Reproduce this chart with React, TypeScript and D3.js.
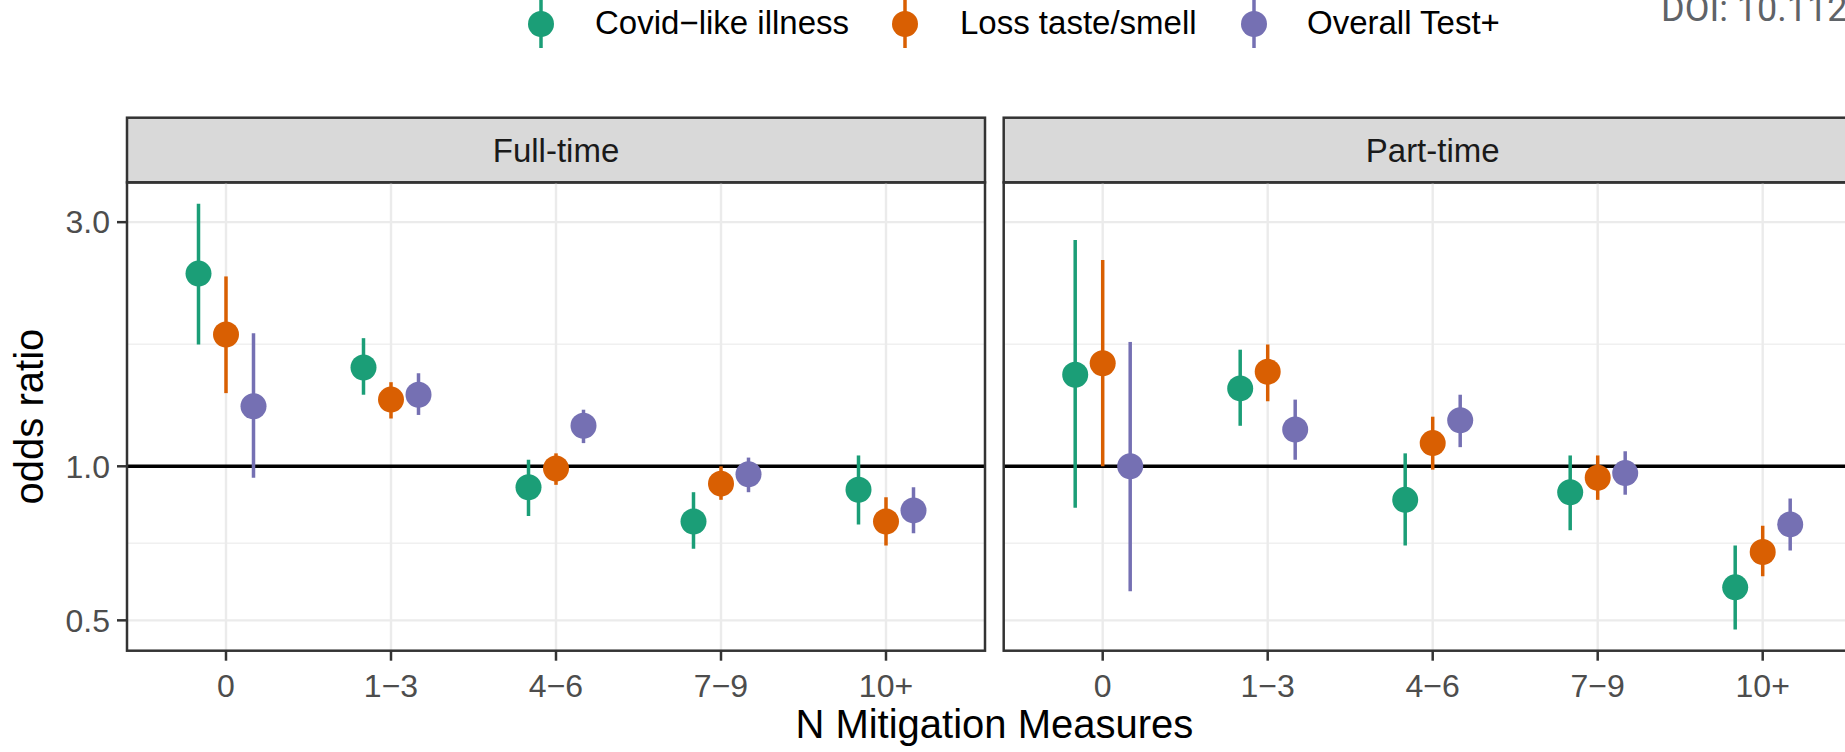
import React from "react";
import * as d3 from "d3";

// ---------- data ----------
const categories = ["0", "1\u22123", "4\u22126", "7\u22129", "10+"];
const panels = ["Full-time", "Part-time"];
const seriesNames = ["Covid\u2212like illness", "Loss taste/smell", "Overall Test+"];
const seriesColors = ["#1B9E77", "#D95F02", "#7570B3"];
const yTicks = [0.5, 1.0, 3.0];
const yMinor = [Math.sqrt(0.5), Math.sqrt(3)];

// Full-time
const ftCovidEst = [2.38, 1.56, 0.91, 0.78, 0.9];
const ftCovidLo = [1.73, 1.38, 0.8, 0.69, 0.77];
const ftCovidHi = [3.26, 1.78, 1.03, 0.89, 1.05];
const ftTasteEst = [1.81, 1.35, 0.99, 0.925, 0.78];
const ftTasteLo = [1.39, 1.24, 0.92, 0.86, 0.7];
const ftTasteHi = [2.35, 1.46, 1.06, 1.0, 0.87];
const ftTestEst = [1.31, 1.38, 1.2, 0.965, 0.82];
const ftTestLo = [0.95, 1.26, 1.11, 0.89, 0.74];
const ftTestHi = [1.82, 1.52, 1.29, 1.04, 0.91];

// Part-time
const ptCovidEst = [1.51, 1.42, 0.86, 0.89, 0.58];
const ptCovidLo = [0.83, 1.2, 0.7, 0.75, 0.48];
const ptCovidHi = [2.77, 1.69, 1.06, 1.05, 0.7];
const ptTasteEst = [1.59, 1.53, 1.11, 0.95, 0.68];
const ptTasteLo = [1.0, 1.34, 0.985, 0.86, 0.61];
const ptTasteHi = [2.53, 1.73, 1.25, 1.05, 0.765];
const ptTestEst = [1.0, 1.18, 1.23, 0.97, 0.77];
const ptTestLo = [0.57, 1.03, 1.09, 0.88, 0.685];
const ptTestHi = [1.75, 1.35, 1.38, 1.07, 0.865];

const panelData = [
  [
    { est: ftCovidEst, lo: ftCovidLo, hi: ftCovidHi },
    { est: ftTasteEst, lo: ftTasteLo, hi: ftTasteHi },
    { est: ftTestEst, lo: ftTestLo, hi: ftTestHi },
  ],
  [
    { est: ptCovidEst, lo: ptCovidLo, hi: ptCovidHi },
    { est: ptTasteEst, lo: ptTasteLo, hi: ptTasteHi },
    { est: ptTestEst, lo: ptTestLo, hi: ptTestHi },
  ],
];

// ---------- layout ----------
const W = 1845;
const H = 752;
const FONT = "'Liberation Sans', Arial, Helvetica, sans-serif";
const stripTop = 117.7;
const panelTop = 182.4;
const panelBottom = 650.7;
const panelWidth = 858;
const panelLefts = [127, 1003.7];

export default function App() {
  const allVals = panelData.flat().flatMap((s) => [...s.lo, ...s.hi]);
  const lmin = Math.log(d3.min(allVals) as number);
  const lmax = Math.log(d3.max(allVals) as number);
  const pad = (lmax - lmin) * 0.05;
  const y = d3
    .scaleLog()
    .domain([Math.exp(lmin - pad), Math.exp(lmax + pad)])
    .range([panelBottom, panelTop]);

  const legendKeyX = [541, 905, 1254];
  const legendTextX = [595, 960, 1307];

  return (
    <svg
      width={W}
      height={H}
      style={{ position: "absolute", left: 0, top: 0, background: "#fff" }}
      fontFamily={FONT}
    >
      <rect x={0} y={0} width={W} height={H} fill="#fff" />
      {/* DOI watermark */}
      <text x={1661} y={21} fontSize={36} fill="#5f6368" fontFamily="Roboto, 'Noto Sans', sans-serif">
        DOI: 10.1128
      </text>

      {/* legend */}
      {seriesNames.map((name, i) => (
        <g key={name}>
          <line x1={legendKeyX[i]} x2={legendKeyX[i]} y1={0} y2={48} stroke={seriesColors[i]} strokeWidth={3.5} />
          <circle cx={legendKeyX[i]} cy={24} r={13} fill={seriesColors[i]} />
          <text x={legendTextX[i]} y={34} fontSize={33} fill="#000">
            {name}
          </text>
        </g>
      ))}

      {panels.map((p, pi) => {
        const x0 = panelLefts[pi];
        const x = d3
          .scalePoint<string>()
          .domain(categories)
          .range([x0, x0 + panelWidth])
          .padding(0.6);
        const step = x.step();
        const dodge = (step * 0.5) / 3;
        const clipId = `clip${pi}`;
        return (
          <g key={p}>
            <defs>
              <clipPath id={clipId}>
                <rect x={x0} y={panelTop} width={panelWidth} height={panelBottom - panelTop} />
              </clipPath>
            </defs>
            {/* strip */}
            <rect
              x={x0}
              y={stripTop}
              width={panelWidth}
              height={panelTop - stripTop}
              fill="#D9D9D9"
              stroke="#333333"
              strokeWidth={2.5}
            />
            <text
              x={x0 + panelWidth / 2}
              y={(stripTop + panelTop) / 2 + 11.5}
              textAnchor="middle"
              fontSize={33}
              fill="#1A1A1A"
            >
              {p}
            </text>
            <g clipPath={`url(#${clipId})`}>
              {/* minor grid */}
              {yMinor.map((v) => (
                <line key={v} x1={x0} x2={x0 + panelWidth} y1={y(v)} y2={y(v)} stroke="#F0F0F0" strokeWidth={1.4} />
              ))}
              {yTicks.map((v) => (
                <line key={v} x1={x0} x2={x0 + panelWidth} y1={y(v)} y2={y(v)} stroke="#EBEBEB" strokeWidth={2.4} />
              ))}
              {categories.map((c) => (
                <line
                  key={c}
                  x1={x(c)}
                  x2={x(c)}
                  y1={panelTop}
                  y2={panelBottom}
                  stroke="#EBEBEB"
                  strokeWidth={2.4}
                />
              ))}
              {/* reference line */}
              <line x1={x0} x2={x0 + panelWidth} y1={y(1)} y2={y(1)} stroke="#000" strokeWidth={3.5} />
              {/* point ranges */}
              {categories.map((c, ci) =>
                panelData[pi].map((s, si) => {
                  const cx = (x(c) as number) + (si - 1) * dodge;
                  return (
                    <g key={c + si}>
                      <line
                        x1={cx}
                        x2={cx}
                        y1={y(s.lo[ci])}
                        y2={y(s.hi[ci])}
                        stroke={seriesColors[si]}
                        strokeWidth={3.5}
                      />
                      <circle cx={cx} cy={y(s.est[ci])} r={13} fill={seriesColors[si]} />
                    </g>
                  );
                })
              )}
            </g>
            {/* border */}
            <rect
              x={x0}
              y={panelTop}
              width={panelWidth}
              height={panelBottom - panelTop}
              fill="none"
              stroke="#333333"
              strokeWidth={2.5}
            />
            {/* x ticks */}
            {categories.map((c) => (
              <g key={c}>
                <line x1={x(c)} x2={x(c)} y1={panelBottom} y2={panelBottom + 10} stroke="#333333" strokeWidth={2.5} />
                <text x={x(c)} y={696.7} textAnchor="middle" fontSize={32} fill="#4D4D4D">
                  {c}
                </text>
              </g>
            ))}
          </g>
        );
      })}

      {/* y axis */}
      {yTicks.map((v) => (
        <g key={v}>
          <line x1={117} x2={127} y1={y(v)} y2={y(v)} stroke="#333333" strokeWidth={2.5} />
          <text x={110} y={y(v) + 11.3} textAnchor="end" fontSize={32} fill="#4D4D4D">
            {d3.format(".1f")(v)}
          </text>
        </g>
      ))}

      {/* axis titles */}
      <text x={(panelLefts[0] + panelLefts[1] + panelWidth) / 2} y={738} textAnchor="middle" fontSize={40} fill="#000">
        N Mitigation Measures
      </text>
      <text
        transform={`translate(43, ${(panelTop + panelBottom) / 2}) rotate(-90)`}
        textAnchor="middle"
        fontSize={40}
        fill="#000"
      >
        odds ratio
      </text>
    </svg>
  );
}
